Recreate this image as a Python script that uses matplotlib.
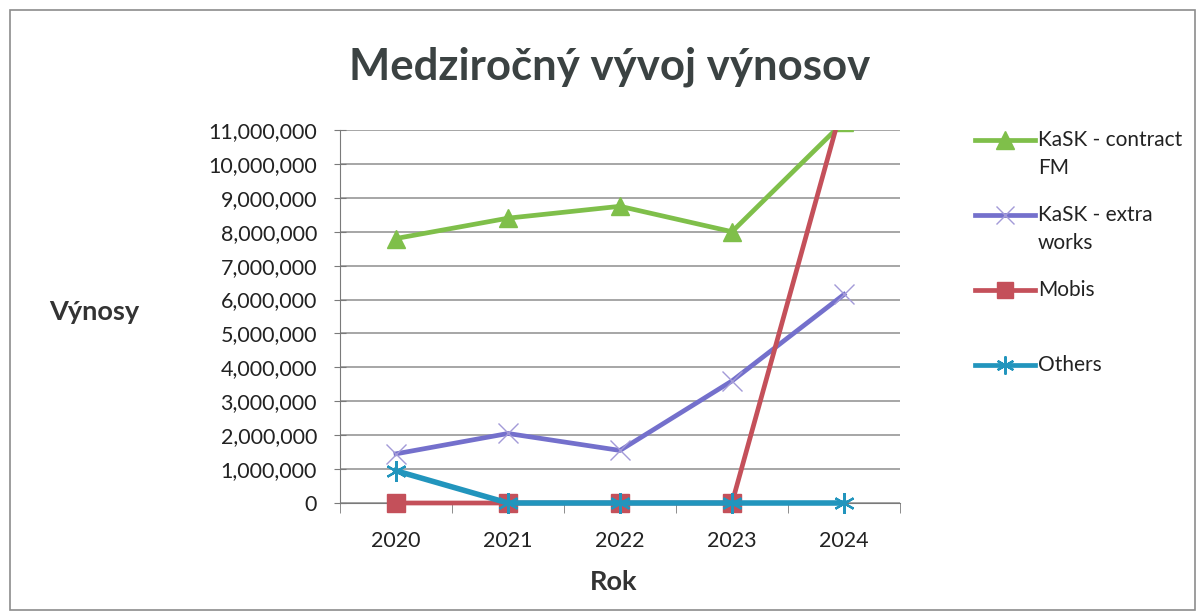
import matplotlib
matplotlib.use("Agg")
import matplotlib.pyplot as plt
from matplotlib.patches import Rectangle
from matplotlib.transforms import Bbox, TransformedBbox

years = ["2020", "2021", "2022", "2023", "2024"]
kask_contract = [7800000, 8400000, 8750000, 8000000, 11250000]
kask_extra = [1450000, 2050000, 1550000, 3600000, 6150000]
mobis = [0, 0, 0, 0, 11900000]
others = [950000, 0, 0, 0, 0]

series_names = ["KaSK - contract\nFM", "KaSK - extra\nworks", "Mobis", "Others"]
y_ticks = list(range(0, 11000001, 1000000))

plt.rcParams['font.family'] = ['Lato', 'DejaVu Sans']

W, H = 1202, 615
fig = plt.figure(figsize=(W / 100, H / 100), dpi=100)
fig.patch.set_facecolor("white")

# outer chart border
fig.add_artist(Rectangle((10 / W, 1 - 610 / H), (1195 - 10) / W, (610 - 10) / H,
                         transform=fig.transFigure, fill=False, edgecolor="#8c8c8c", lw=1.2))

ax = fig.add_axes([340 / W, 1 - 503 / H, (900 - 340) / W, (503 - 130) / H])

green = "#7fbf4a"
purple = "#7470cc"
purple_m = "#a39ad8"
red = "#c4505a"
teal = "#2295bd"

x = list(range(len(years)))
lines = []
lines += ax.plot(x, kask_contract, color=green, lw=3.4, marker="^", ms=13, mfc=green, mec=green, zorder=3)
lines += ax.plot(x, kask_extra, color=purple, lw=3.4, marker="x", ms=14, mew=1.0, mec=purple_m, zorder=4)
lines += ax.plot(x, mobis, color=red, lw=3.4, marker="s", ms=13, mfc=red, mec=red, zorder=5)
lines += ax.plot(x, others, color=teal, lw=4.0, marker=(6, 2, 0), ms=15, mew=1.6, mec=teal, zorder=6)

# clip only at the top of the plot area (markers at zero stay whole)
clip = TransformedBbox(Bbox([[-0.1, -0.2], [1.1, 1.0]]), ax.transAxes)
for ln in lines:
    ln.set_clip_box(clip)

ax.set_xlim(-0.5, len(years) - 0.5)
ax.set_ylim(0, 11000000)
ax.set_yticks(y_ticks)
ax.set_yticklabels([f"{v:,}" for v in y_ticks])
ax.set_xticks(x)
ax.set_xticklabels(years)
ax.set_xticks([i - 0.5 for i in range(len(years) + 1)], minor=True)
ax.tick_params(axis="x", which="major", length=0, pad=20, labelsize=15.5, labelcolor="#222222")
ax.tick_params(axis="x", which="minor", length=7, direction="out", color="#7a7a7a")
ax.tick_params(axis="y", which="major", length=9, direction="inout", color="#7a7a7a",
               pad=12, labelsize=15.5, labelcolor="#222222")

ax.grid(axis="y", color="#8e8e8e", lw=1.1)
ax.set_axisbelow(True)
for s in ["top", "right"]:
    ax.spines[s].set_visible(False)
ax.spines["left"].set_color("#7a7a7a")
ax.spines["bottom"].set_color("#7a7a7a")

fig.text(610 / W, 1 - 67 / H, "Medziročný vývoj výnosov", ha="center", va="center",
         fontsize=31.5, fontweight="bold", color="#3b4242")
fig.text(94 / W, 1 - 312 / H, "Výnosy", ha="center", va="center",
         fontsize=19.5, fontweight="bold", color="#333333")
fig.text(614 / W, 1 - 582 / H, "Rok", ha="center", va="center",
         fontsize=19.5, fontweight="bold", color="#333333")

# legend
lax = fig.add_axes([0, 0, 1, 1], facecolor="none")
lax.set_xlim(0, W)
lax.set_ylim(H, 0)
lax.axis("off")
leg_y = [140, 215, 290, 365]
styles = [
    dict(color=green, marker="^", ms=13, mfc=green, mec=green),
    dict(color=purple, marker="x", ms=13, mew=1.0, mec=purple_m),
    dict(color=red, marker="s", ms=12, mfc=red, mec=red),
    dict(color=teal, marker=(6, 2, 0), ms=13, mew=1.6, mec=teal),
]
for yy, name, st in zip(leg_y, series_names, styles):
    lax.plot([975, 1005, 1035], [yy, yy, yy], lw=3.4, markevery=[1], **st)
    for k, line in enumerate(name.split("\n")):
        lax.text(1038, yy + k * 28, line, ha="left", va="center", fontsize=15, color="#222222")

fig.savefig("out.png", dpi=100)
